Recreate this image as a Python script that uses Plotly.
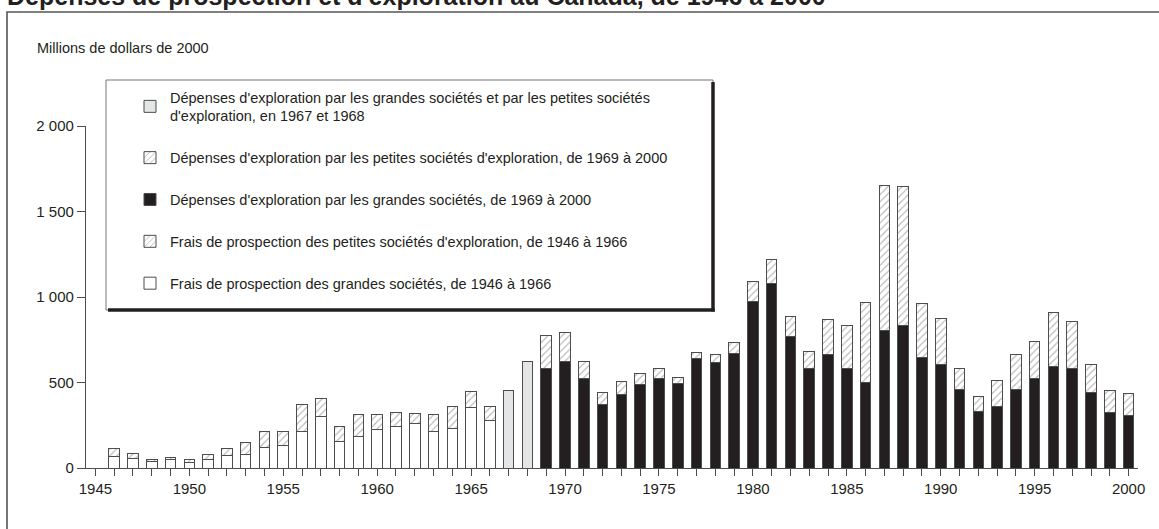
import plotly.graph_objects as go

# ---------------- data ----------------
years_1946_1966 = list(range(1946, 1967))
large_1946_1966 = [70, 54, 37, 52, 35, 48, 75, 81, 118, 131, 215, 302, 155, 182, 225, 242, 258, 211, 229, 353, 275]
small_1946_1966 = [44, 29, 15, 12, 17, 29, 37, 66, 97, 84, 157, 103, 85, 130, 85, 82, 62, 99, 133, 95, 85]

years_1967_1968 = [1967, 1968]
total_1967_1968 = [453, 624]

years_1969_2000 = list(range(1969, 2001))
large_1969_2000 = [581, 622, 523, 374, 428, 487, 521, 492, 643, 618, 672, 973, 1081, 769, 583, 663,
                   583, 502, 804, 833, 646, 603, 457, 329, 359, 457, 523, 591, 581, 442, 326, 306]
small_1969_2000 = [192, 171, 97, 70, 80, 66, 58, 35, 35, 45, 62, 118, 138, 115, 101, 205,
                   248, 463, 851, 812, 317, 271, 126, 90, 151, 208, 219, 318, 274, 163, 126, 130]

y_tickvals = [0, 500, 1000, 1500, 2000]
y_ticktext = ["0", "500", "1 000", "1 500", "2 000"]

title_text = "Dépenses de prospection et d'exploration au Canada, de 1946 à 2000"
ytitle_text = "Millions de dollars de 2000"
names = {
    "mixed": "Dépenses d'exploration par les grandes sociétés et par les petites sociétés<br>d'exploration, en 1967 et 1968",
    "small_late": "Dépenses d'exploration par les petites sociétés d'exploration, de 1969 à 2000",
    "large_late": "Dépenses d'exploration par les grandes sociétés, de 1969 à 2000",
    "small_early": "Frais de prospection des petites sociétés d'exploration, de 1946 à 1966",
    "large_early": "Frais de prospection des grandes sociétés, de 1946 à 1966",
}

# ---------------- style ----------------
FONT = "Liberation Sans, Arial, sans-serif"
INK = "#231f20"
EDGE = "#4d4d4d"
BW = 0.56
pattern = dict(shape="/", fgcolor="#707070", bgcolor="white", size=5, solidity=0.22)

W, H = 1159, 529
# plot area in page pixels
L, R, T, B = 86, 1138, 126, 468

def px(x):  # page pixel x -> paper
    return (x - L) / (R - L)

def py(y):  # page pixel y -> paper
    return (B - y) / (B - T)

fig = go.Figure()
fig.add_bar(x=years_1946_1966, y=large_1946_1966, name=names["large_early"], width=BW,
            marker=dict(color="white", line=dict(color=EDGE, width=1)),
            legendgroup="e", legendrank=5)
fig.add_bar(x=years_1946_1966, y=small_1946_1966, name=names["small_early"], width=BW,
            marker=dict(color="white", line=dict(color=EDGE, width=1), pattern=pattern),
            legendgroup="d", legendrank=4)
fig.add_bar(x=years_1967_1968, y=total_1967_1968, name=names["mixed"], width=BW,
            marker=dict(color="#e4e5e6", line=dict(color=EDGE, width=1)),
            legendgroup="a", legendrank=1)
fig.add_bar(x=years_1969_2000, y=large_1969_2000, name=names["large_late"], width=BW,
            marker=dict(color=INK, line=dict(color=EDGE, width=1)),
            legendgroup="c", legendrank=3)
fig.add_bar(x=years_1969_2000, y=small_1969_2000, name=names["small_late"], width=BW,
            marker=dict(color="white", line=dict(color=EDGE, width=1), pattern=pattern),
            legendgroup="b", legendrank=2)

shapes = [
    # outer frame (runs off the page at right and bottom)
    dict(type="rect", xref="paper", yref="paper", x0=px(7), x1=px(1175), y0=py(545), y1=py(12),
         line=dict(color="#555555", width=1.6), fillcolor="rgba(0,0,0,0)", layer="below"),
    # legend box
    dict(type="rect", xref="paper", yref="paper", x0=px(106), x1=px(713), y0=py(310), y1=py(80),
         line=dict(color="#777777", width=1), fillcolor="white", layer="below"),
    # legend shadow
    dict(type="line", xref="paper", yref="paper", x0=px(713), x1=px(713), y0=py(311.5), y1=py(82),
         line=dict(color=INK, width=3.5)),
    dict(type="line", xref="paper", yref="paper", x0=px(108), x1=px(714.7), y0=py(310), y1=py(310),
         line=dict(color=INK, width=3.5)),
]

annotations = [
    dict(text="<b>" + title_text + "</b>", xref="paper", yref="paper", x=px(5), y=py(-3.5),
         xanchor="left", yanchor="middle", showarrow=False, font=dict(size=25, color=INK, family=FONT)),
    dict(text=ytitle_text, xref="paper", yref="paper", x=px(35), y=py(48),
         xanchor="left", yanchor="middle", showarrow=False, font=dict(size=14.5, color=INK, family=FONT)),
]

fig.update_layout(
    width=W, height=H,
    margin=dict(l=L, r=W - R, t=T, b=H - B, pad=0),
    barmode="stack",
    plot_bgcolor="white", paper_bgcolor="white",
    font=dict(family=FONT, color=INK, size=15),
    shapes=shapes, annotations=annotations,
    showlegend=True,
    legend=dict(x=px(130), y=py(81), xanchor="left", yanchor="top",
                bgcolor="rgba(0,0,0,0)", borderwidth=0,
                font=dict(size=14.5, color=INK, family=FONT),
                traceorder="grouped", tracegroupgap=20),
    xaxis=dict(range=[1944.5, 2000.5], tick0=1945, dtick=5, ticks="outside", ticklen=7,
               tickcolor=EDGE, tickwidth=1, showline=True, linecolor=EDGE, linewidth=1.2,
               showgrid=False, zeroline=False, tickfont=dict(size=15, color=INK),
               minor=dict(tick0=1945, dtick=1, ticks="outside", ticklen=7, tickcolor=EDGE, tickwidth=1, showgrid=False)),
    yaxis=dict(range=[0, 2000], tickvals=y_tickvals, ticktext=y_ticktext, ticks="outside", ticklen=8,
               tickcolor=EDGE, tickwidth=1, showline=True, linecolor=EDGE, linewidth=1.2,
               showgrid=False, zeroline=False, tickfont=dict(size=15, color=INK)),
)

fig.write_html("out.html", config={"displayModeBar": False},
               post_script="document.body.style.margin='0';")
